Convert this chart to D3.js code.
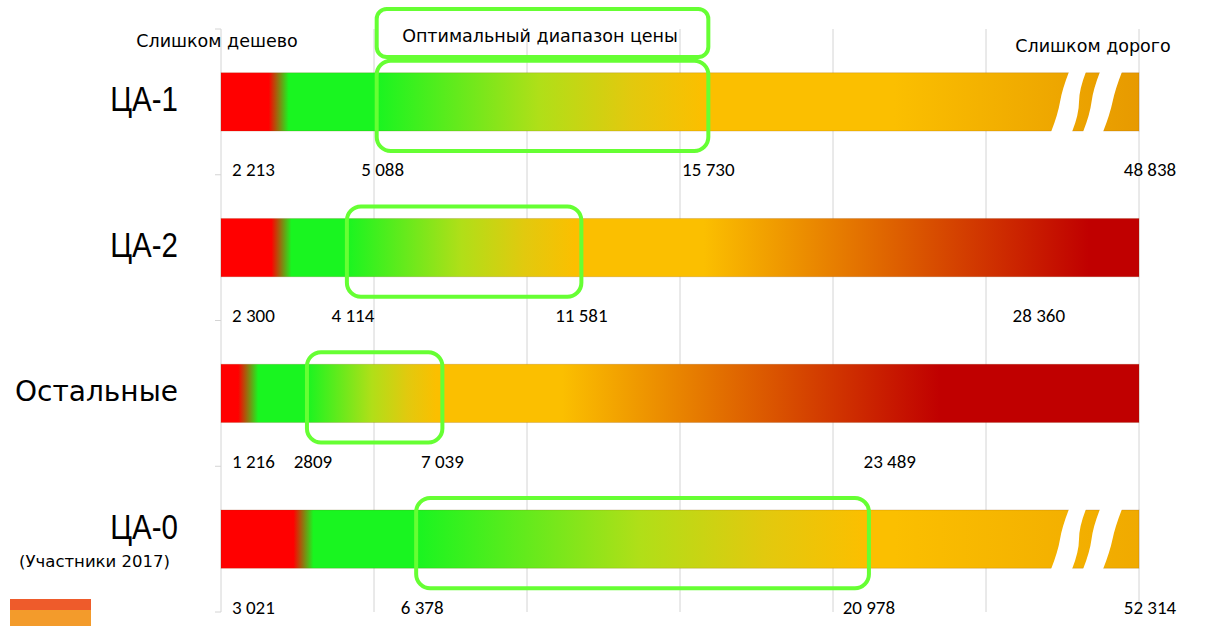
<html>
<head>
<meta charset="utf-8">
<style>
  body { margin: 0; background: white; }
  text { fill: black; }
</style>
</head>
<body>
<svg id="svg" width="1205" height="626"></svg>
<script src="https://cdn.jsdelivr.net/npm/d3@7"></script>
<script>

// ценовые пороги по группам (Van Westendorp)
var groups = ["ЦА-1", "ЦА-2", "Остальные", "ЦА-0"];
var subtitles = ["", "", "", "(Участники 2017)"];
var tooCheap = [2213, 2300, 1216, 3021];
var optLow = [5088, 4114, 2809, 6378];
var optHigh = [15730, 11581, 7039, 20978];
var tooExpensive = [48838, 28360, 23489, 52314];
var optLabels = ["5 088", "4 114", "2809", "6 378"];
var axisMax = 30000;
var gridStep = 5000;

var fmt = v => d3.format(",")(v).replace(/,/g, " ");

var svg = d3.select("#svg");
var defs = svg.append("defs");

var x = d3.scaleLinear().domain([0, axisMax]).range([221, 1139]);
var y = d3.scaleBand().domain(groups).range([29, 612]);
var barH = y.bandwidth() * 0.4;
var barY = g => y(g) + y.bandwidth() * 0.3;

var RED = "#ff0000", GREEN = "#19f520", ORANGE = "#fbbf00", DARKRED = "#c00000";

var rows = groups.map((g, i) => ({
  g: g, i: i, sub: subtitles[i],
  cheap: tooCheap[i], lo: optLow[i], hi: optHigh[i], exp: tooExpensive[i],
  loLabel: optLabels[i]
}));

// grid
var grid = svg.append("g");
grid.selectAll("line.gl").data(d3.range(0, axisMax + 1, gridStep))
  .join("line").classed("gl", true)
  .attr("x1", d => x(d)).attr("x2", d => x(d))
  .attr("y1", y.range()[0]).attr("y2", y.range()[1])
  .style("stroke", "#d4d4d4").style("stroke-width", 1);
grid.selectAll("line.tk").data(groups.map(g => y(g)).concat([y.range()[1]]))
  .join("line").classed("tk", true)
  .attr("x1", x(0) - 6).attr("x2", x(0))
  .attr("y1", d => d).attr("y2", d => d)
  .style("stroke", "#d4d4d4");

// gradients
rows.forEach(r => {
  var w = x(axisMax) - x(0);
  var p = px => Math.max(0, Math.min(100, (px - x(0)) / w * 100)) + "%";
  var a = x(r.lo), b = x(r.hi);
  var stops = [
    [x(0), RED], [x(r.cheap) - 20, RED], [x(r.cheap), GREEN],
    [a, GREEN], [a + (b - a) * 0.5, "#b0df18"], [a + (b - a) * 0.78, "#e2c90e"], [b, ORANGE]
  ];
  if (r.exp <= axisMax) {
    var f = b + (x(r.exp) - b) * 0.25;
    stops.push([f, ORANGE], [x(r.exp), DARKRED], [x(axisMax), DARKRED]);
  } else {
    // чем дальше за шкалой, тем темнее хвост
    stops.push([x(22000), ORANGE], [x(axisMax), r.exp > 50000 ? "#f0aa00" : "#e79a00"]);
  }
  var lg = defs.append("linearGradient").attr("id", "grad" + r.i)
    .attr("gradientUnits", "userSpaceOnUse")
    .attr("x1", x(0)).attr("x2", x(axisMax)).attr("y1", 0).attr("y2", 0);
  stops.forEach(s => lg.append("stop").attr("offset", p(s[0])).attr("stop-color", s[1]));
});

// bars
svg.append("g").selectAll("rect.bar").data(rows)
  .join("rect").classed("bar", true)
  .attr("x", x(0)).attr("y", d => barY(d.g))
  .attr("width", x(axisMax) - x(0))
  .attr("height", barH)
  .style("fill", d => "url(#grad" + d.i + ")")
  .style("stroke", "rgba(120,60,0,0.18)").style("stroke-width", 1);

// break marks for values beyond the axis
// each band: [top-left, top-right, bottom-left, bottom-right] offsets from the bar end
var bands = [[-70, -53, -88, -67], [-39, -17, -56, -36]];
function edge(xa, ya, xb, yb, k) {
  var mx = (xa + xb) / 2, my = (ya + yb) / 2;
  return `Q${xa + k},${ya + (yb - ya) * 0.3} ${mx},${my} T${xb},${yb}`;
}
svg.append("g").selectAll("g.brk").data(rows.filter(r => r.exp > axisMax))
  .join("g").classed("brk", true)
  .each(function(d) {
    var e = x(axisMax), t = barY(d.g) - 1, bt = t + barH + 2;
    bands.forEach(o => {
      d3.select(this).append("path")
        .attr("d", `M${e + o[0]},${t} L${e + o[1]},${t} ` +
                   edge(e + o[1], t, e + o[3], bt, -7) +
                   ` L${e + o[2]},${bt} ` +
                   edge(e + o[2], bt, e + o[0], t, 7) + "Z")
        .style("fill", "white");
    });
  });

// optimal range boxes
svg.append("g").selectAll("rect.opt").data(rows)
  .join("rect").classed("opt", true)
  .attr("x", d => x(d.lo)).attr("y", d => barY(d.g) - 12)
  .attr("width", d => x(d.hi) - x(d.lo) + 6)
  .attr("height", barH + 32)
  .attr("rx", 14)
  .style("fill", "none").style("stroke", "#66ff33").style("stroke-width", 4);

// header box
var r0 = rows[0];
var hFont = "DejaVu Sans";
svg.append("rect")
  .attr("x", x(r0.lo)).attr("y", 9)
  .attr("width", x(r0.hi) - x(r0.lo) + 6).attr("height", 48)
  .attr("rx", 10)
  .style("fill", "none").style("stroke", "#66ff33").style("stroke-width", 4);
svg.append("text").text("Оптимальный диапазон цены")
  .attr("x", 540).attr("y", 37)
  .attr("text-anchor", "middle").attr("dominant-baseline", "middle")
  .attr("font-family", hFont).attr("font-size", 17.5);
svg.append("text").text("Слишком дешево")
  .attr("x", 217).attr("y", 42)
  .attr("text-anchor", "middle").attr("dominant-baseline", "middle")
  .attr("font-family", hFont).attr("font-size", 17.5);
svg.append("text").text("Слишком дорого")
  .attr("x", 1093).attr("y", 47)
  .attr("text-anchor", "middle").attr("dominant-baseline", "middle")
  .attr("font-family", hFont).attr("font-size", 17.5);

// row labels (ЦА-* narrow, squeezed horizontally)
var lab = svg.append("g").selectAll("g.lab").data(rows).join("g").classed("lab", true)
  .attr("transform", d => "translate(178," + (barY(d.g) + barH / 2) + ")");
lab.append("text")
  .text(d => d.g)
  .attr("transform", d => d.g.startsWith("ЦА") ? "scale(0.82,1)" : null)
  .attr("y", d => d.sub ? -10 : 0)
  .attr("text-anchor", "end").attr("dominant-baseline", "middle")
  .attr("font-family", d => d.g.startsWith("ЦА") ? "Liberation Sans" : hFont)
  .attr("font-size", d => d.g.startsWith("ЦА") ? 36 : 28);
lab.filter(d => d.sub).append("text")
  .text(d => d.sub)
  .attr("x", -8)
  .attr("y", 23)
  .attr("text-anchor", "end").attr("dominant-baseline", "middle")
  .attr("font-family", hFont).attr("font-size", 16.5);

// value labels under bars
var vl = svg.append("g").selectAll("g.vl").data(rows).join("g").classed("vl", true);
var ly = d => y(d.g) + y.bandwidth() - 3;
var numFont = "Carlito, Liberation Sans Narrow, Liberation Sans";
vl.append("text").text(d => fmt(d.cheap))
  .attr("x", x(0) + 11).attr("y", ly).attr("dominant-baseline", "middle");
vl.append("text").text(d => d.loLabel)
  .attr("x", d => x(d.lo) + 6).attr("y", ly).attr("text-anchor", "middle").attr("dominant-baseline", "middle");
vl.append("text").text(d => fmt(d.hi))
  .attr("x", d => x(d.hi) + 6).attr("y", ly).attr("text-anchor", "middle").attr("dominant-baseline", "middle");
vl.append("text").text(d => fmt(d.exp))
  .attr("x", d => d.exp > axisMax ? x(axisMax) + 11 : x(d.exp) - 50)
  .attr("y", ly).attr("text-anchor", "middle").attr("dominant-baseline", "middle");
vl.selectAll("text").attr("font-family", numFont).attr("font-size", 19);

// corner swatch
svg.append("rect").attr("x", 10).attr("y", 599).attr("width", 81).attr("height", 11).style("fill", "#ee5b2b");
svg.append("rect").attr("x", 10).attr("y", 610).attr("width", 81).attr("height", 16).style("fill", "#f39b2b");

</script>
</body>
</html>
